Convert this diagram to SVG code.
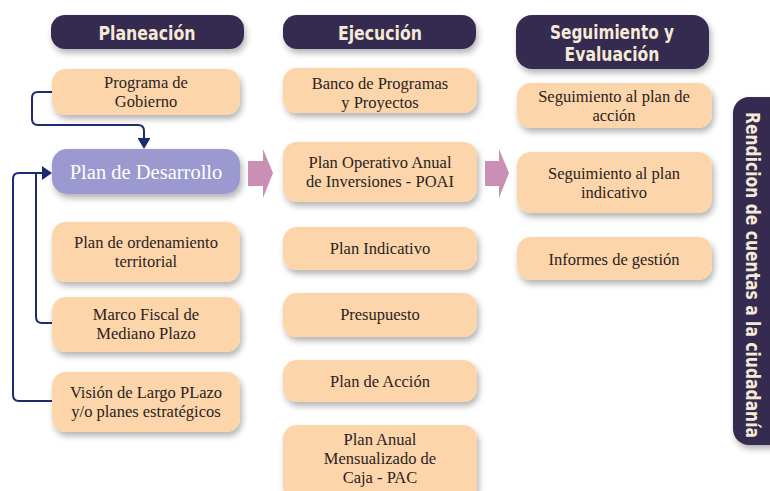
<svg xmlns="http://www.w3.org/2000/svg" width="770" height="491" viewBox="0 0 770 491">
<defs>
<filter id="sh" x="-20%" y="-30%" width="150%" height="180%">
<feDropShadow dx="2" dy="4" stdDeviation="3" flood-color="#000" flood-opacity="0.3"/>
</filter>
<style>
.hdr{fill:#352c4f;filter:url(#sh)}
.ht{fill:#f6ead6;font-family:"Liberation Sans Narrow","DejaVu Sans Condensed","Liberation Sans",sans-serif;font-weight:bold;font-size:20px;text-anchor:middle}
.box{fill:#fcd6aa;filter:url(#sh)}
.bt{fill:#2b2222;font-family:"Liberation Serif","DejaVu Serif",serif;font-size:16.5px;text-anchor:middle}
.pd{fill:#9c98d0;filter:url(#sh)}
.pt{fill:#ffffff;font-family:"Liberation Serif","DejaVu Serif",serif;font-size:20.5px;text-anchor:middle}
.con{fill:none;stroke:#1f2a6e;stroke-width:2}
.ah{fill:#1f2a6e}
.pk{fill:#c98fb4}
</style>
</defs>
<rect width="770" height="491" fill="#ffffff"/>

<g id="connectors">
<path class="con" d="M52,92 H38 Q32,92 32,98 V119 Q32,125 38,125 H138 Q144,125 144,131 V139"/>
<polygon class="ah" points="137.5,138 150.5,138 144,149"/>
<path class="con" d="M52,401 H19 Q13,401 13,395 V179 Q13,173 19,173 H43"/>
<path class="con" d="M52,323 H42 Q36,323 36,317 V173"/>
<polygon class="ah" points="42,166 42,180 52,173"/>
<path class="pk" d="M248,161 H263 V149 L273,173 L263,198 V186 H248 Z"/>
<path class="pk" d="M485,161 H499 V149 L509,173 L499,198 V186 H485 Z"/>
</g>

<g id="h-planeacion">
<rect class="hdr" x="51" y="15" width="193" height="34" rx="14"/>
<text class="ht" x="147" y="40" textLength="97" lengthAdjust="spacingAndGlyphs">Planeación</text>
</g>
<g id="h-ejecucion">
<rect class="hdr" x="283" y="15" width="193" height="34" rx="14"/>
<text class="ht" x="380" y="40" textLength="84" lengthAdjust="spacingAndGlyphs">Ejecución</text>
</g>
<g id="h-seguimiento">
<rect class="hdr" x="516" y="15" width="193" height="54" rx="16"/>
<text class="ht" x="612" y="39" font-size="18" textLength="124" lengthAdjust="spacingAndGlyphs">Seguimiento y</text>
<text class="ht" x="612" y="61" font-size="18" textLength="95" lengthAdjust="spacingAndGlyphs">Evaluación</text>
</g>

<g id="n-programa">
<rect class="box" x="52" y="69" width="188" height="46" rx="14"/>
<text class="bt" x="146" y="88">Programa de</text>
<text class="bt" x="146" y="107">Gobierno</text>
</g>
<g id="n-plandesarrollo">
<rect class="pd" x="52" y="149" width="188" height="45" rx="15"/>
<text class="pt" x="146" y="179">Plan de Desarrollo</text>
</g>
<g id="n-ordenamiento">
<rect class="box" x="52" y="222" width="188" height="60" rx="14"/>
<text class="bt" x="146" y="248">Plan de ordenamiento</text>
<text class="bt" x="146" y="267">territorial</text>
</g>
<g id="n-marco">
<rect class="box" x="52" y="297" width="188" height="55" rx="14"/>
<text class="bt" x="146" y="320">Marco Fiscal de</text>
<text class="bt" x="146" y="339">Mediano Plazo</text>
</g>
<g id="n-vision">
<rect class="box" x="52" y="372" width="188" height="60" rx="14"/>
<text class="bt" x="146" y="398">Visión de Largo PLazo</text>
<text class="bt" x="146" y="417">y/o planes estratégicos</text>
</g>

<g id="n-banco">
<rect class="box" x="283" y="68" width="194" height="45" rx="14"/>
<text class="bt" x="380" y="89">Banco de Programas</text>
<text class="bt" x="380" y="108">y Proyectos</text>
</g>
<g id="n-poai">
<rect class="box" x="283" y="142" width="194" height="60" rx="14"/>
<text class="bt" x="380" y="168">Plan Operativo Anual</text>
<text class="bt" x="380" y="187">de Inversiones - POAI</text>
</g>
<g id="n-indicativo">
<rect class="box" x="283" y="227" width="194" height="43" rx="14"/>
<text class="bt" x="380" y="254">Plan Indicativo</text>
</g>
<g id="n-presupuesto">
<rect class="box" x="283" y="293" width="194" height="44" rx="14"/>
<text class="bt" x="380" y="320">Presupuesto</text>
</g>
<g id="n-accion">
<rect class="box" x="283" y="360" width="194" height="42" rx="14"/>
<text class="bt" x="380" y="387">Plan de Acción</text>
</g>
<g id="n-pac">
<rect class="box" x="283" y="425" width="194" height="75" rx="14"/>
<text class="bt" x="380" y="445">Plan Anual</text>
<text class="bt" x="380" y="464">Mensualizado de</text>
<text class="bt" x="380" y="483">Caja - PAC</text>
</g>

<g id="n-seg-accion">
<rect class="box" x="517" y="83" width="195" height="45" rx="14"/>
<text class="bt" x="614" y="102">Seguimiento al plan de</text>
<text class="bt" x="614" y="121">acción</text>
</g>
<g id="n-seg-indicativo">
<rect class="box" x="517" y="152" width="195" height="61" rx="14"/>
<text class="bt" x="614" y="179">Seguimiento al plan</text>
<text class="bt" x="614" y="198">indicativo</text>
</g>
<g id="n-informes">
<rect class="box" x="517" y="237" width="195" height="43" rx="14"/>
<text class="bt" x="614" y="265">Informes de gestión</text>
</g>

<g id="n-rendicion">
<rect class="hdr" x="733" y="97" width="55" height="348" rx="16"/>
<text class="ht" transform="translate(753,275) rotate(90)" x="0" y="7" font-size="19" textLength="326" lengthAdjust="spacingAndGlyphs">Rendicion de cuentas a la ciudadanía</text>
</g>
</svg>
